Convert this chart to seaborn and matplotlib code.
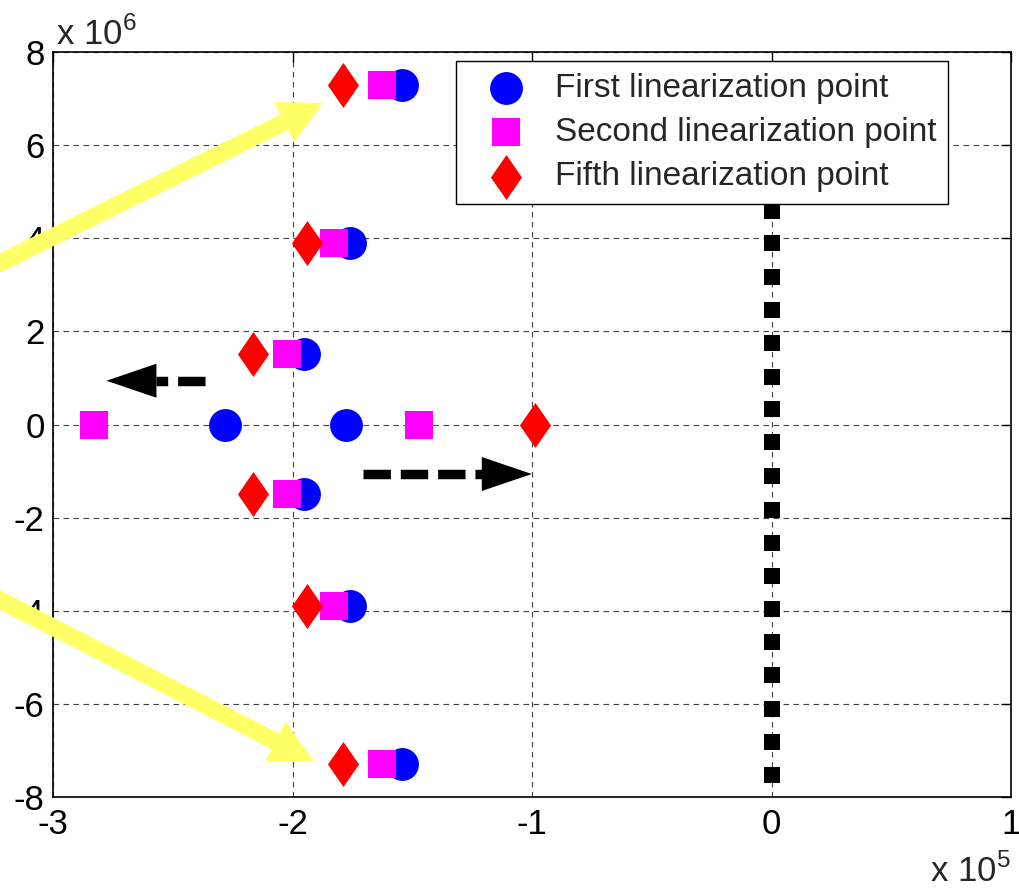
import numpy as np
import pandas as pd
import matplotlib
matplotlib.use("Agg")
import matplotlib.pyplot as plt
from matplotlib.path import Path
from matplotlib.ticker import FuncFormatter
import seaborn as sns

# Pole locations: real part (x 1e5), imaginary part (x 1e6)
first_re = [-1.544, -1.762, -1.952, -2.284, -1.778, -1.952, -1.762, -1.544]
first_im = [7.30, 3.89, 1.51, 0.0, 0.0, -1.50, -3.89, -7.29]

second_re = [-1.626, -1.827, -2.023, -2.830, -1.471, -2.023, -1.827, -1.626]
second_im = [7.30, 3.89, 1.51, 0.0, 0.0, -1.50, -3.89, -7.29]

fifth_re = [-1.789, -1.940, -2.166, -0.987, -2.166, -1.941, -1.789]
fifth_im = [7.30, 3.89, 1.51, 0.0, -1.50, -3.89, -7.29]

# Points on the imaginary axis (x 1e6)
axis_im = [-7.53, -6.82, -6.10, -5.39, -4.68, -3.96, -3.25, -2.54, -1.83,
           -1.11, -0.38, 0.33, 1.03, 1.74, 2.46, 3.17, 3.89, 4.59]

series_labels = ["First linearization point",
                 "Second linearization point",
                 "Fifth linearization point"]

x_ticks = [-3, -2, -1, 0, 1]
y_ticks = [-8, -6, -4, -2, 0, 2, 4, 6, 8]

RE, IM = 1e5, 1e6


def frame(re, im):
    return pd.DataFrame({"re": np.asarray(re) * RE, "im": np.asarray(im) * IM})


sns.set_style("white")
plt.rcParams.update({
    "font.family": ["Liberation Sans", "DejaVu Sans"],
    "axes.unicode_minus": False,
    "mathtext.fontset": "custom",
    "mathtext.rm": "Liberation Sans",
    "axes.edgecolor": "black",
    "axes.linewidth": 1.2,
})

fig = plt.figure(figsize=(10.2, 8.92), dpi=100)
ax = fig.add_axes([0.052, 0.1065, 0.9392, 0.8352])

# tall diamond marker
diamond = Path([(0, 1), (0.69, 0), (0, -1), (-0.69, 0), (0, 1)],
               [Path.MOVETO, Path.LINETO, Path.LINETO, Path.LINETO, Path.CLOSEPOLY])

sns.scatterplot(data=frame(first_re, first_im), x="re", y="im", ax=ax,
                marker="o", s=560, color="#0000ff", linewidth=0,
                label=series_labels[0], zorder=3)
sns.scatterplot(data=frame(second_re, second_im), x="re", y="im", ax=ax,
                marker="s", s=380, color="#ff00ff", linewidth=0,
                label=series_labels[1], zorder=4)
sns.scatterplot(data=frame(fifth_re, fifth_im), x="re", y="im", ax=ax,
                marker=diamond, s=1050, color="#ff0000", linewidth=0,
                label=series_labels[2], zorder=4)
sns.scatterplot(data=frame(np.zeros(len(axis_im)), axis_im), x="re", y="im", ax=ax,
                marker="s", s=125, color="black", linewidth=0,
                label="_nolegend_", zorder=3)

ax.set_xlim(x_ticks[0] * RE, x_ticks[-1] * RE)
ax.set_ylim(y_ticks[0] * IM, y_ticks[-1] * IM)
ax.set_xticks([t * RE for t in x_ticks])
ax.set_yticks([t * IM for t in y_ticks])
ax.xaxis.set_major_formatter(FuncFormatter(lambda v, p: f"{v / RE:g}"))
ax.yaxis.set_major_formatter(FuncFormatter(lambda v, p: f"{v / IM:g}"))
ax.set_xlabel("")
ax.set_ylabel("")
ax.tick_params(direction="in", top=True, right=True, length=7, width=1,
               labelsize=25, colors="black")
ax.tick_params(axis="x", pad=8)
ax.tick_params(axis="y", pad=6)
ax.grid(True, color="0.25", linestyle=(0, (5, 4)), linewidth=0.8)
for sp in ax.spines.values():
    sp.set_visible(True)
    sp.set_color("black")

# exponent labels
ax.annotate(r"x 10$^{\mathregular{6}}$", xy=(0, 1), xycoords="axes fraction",
            xytext=(2, 5), textcoords="offset points", ha="left", va="baseline",
            fontsize=25)
ax.annotate(r"x 10$^{\mathregular{5}}$", xy=(1, 0), xycoords="axes fraction",
            xytext=(0, -61), textcoords="offset points", ha="right", va="baseline",
            fontsize=25)

# yellow direction arrows
yellow_style = "simple,head_length=1.55,head_width=1.6,tail_width=0.62"
for start, tip in [((-3.30, 3.27), (-1.873, 6.905)),
                   ((-3.30, -3.56), (-1.911, -7.23))]:
    ax.annotate("", xy=(tip[0] * RE, tip[1] * IM),
                xytext=(start[0] * RE, start[1] * IM),
                arrowprops=dict(arrowstyle=yellow_style, mutation_scale=20,
                                fc="#ffff66", ec="none", shrinkA=0, shrinkB=0),
                annotation_clip=False, zorder=5)

# black dashed arrows
for start, base, tip, y in [(-2.365, -2.570, -2.777, 0.94),
                            (-1.706, -1.210, -1.001, -1.063)]:
    ax.plot([start * RE, base * RE], [y * IM, y * IM], color="black",
            linewidth=6.8, dashes=(2.9, 1.05), dash_capstyle="butt",
            solid_capstyle="butt", zorder=5)
    ax.annotate("", xy=(tip * RE, y * IM), xytext=(start * RE, y * IM),
                arrowprops=dict(arrowstyle="simple,head_length=3.6,head_width=2.45,tail_width=0",
                                mutation_scale=10, fc="black", ec="none",
                                shrinkA=0, shrinkB=0),
                zorder=5)

leg = ax.legend(loc="upper right", bbox_to_anchor=(0.934, 0.988),
                fontsize=24, frameon=True, fancybox=False, edgecolor="black",
                framealpha=1, borderpad=0.35, labelspacing=0.40,
                handletextpad=0.32, handlelength=2.3, borderaxespad=0,
                scatterpoints=1)
leg.get_frame().set_linewidth(1.0)
leg.set_zorder(10)

fig.savefig("out.png", dpi=100)
